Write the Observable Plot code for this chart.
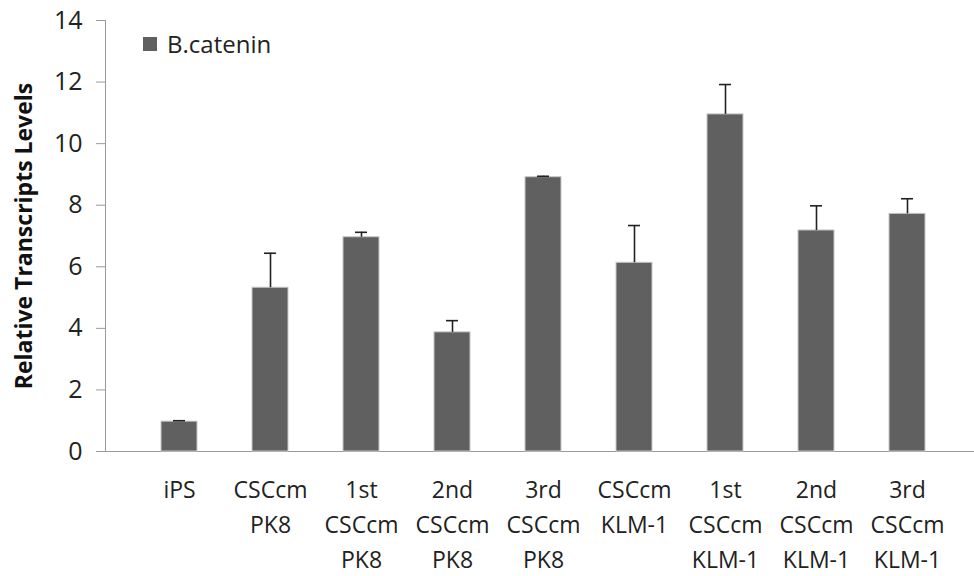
<!DOCTYPE html>
<html>
<head>
<meta charset="utf-8">
<script src="https://cdn.jsdelivr.net/npm/d3@7"></script>
<script src="https://cdn.jsdelivr.net/npm/@observablehq/plot@0.6"></script>
<style>
  body { margin: 0; background: #fff; }
  #wrap { position: relative; width: 974px; height: 576px; overflow: hidden; font-family: "Open Sans", sans-serif; }
  #legend { position: absolute; left: 143px; top: 27px; display: flex; align-items: center; font-size: 24px; color: #222; }
  #legend .sw { width: 14px; height: 14px; background: #606060; margin-right: 10px; }
</style>
</head>
<body>
<div id="wrap">
  <div id="chart"></div>
  <div id="legend"><div class="sw"></div><span>B.catenin</span></div>
</div>
<script>
const categories = ["iPS", "CSCcm\nPK8", "1st\nCSCcm\nPK8", "2nd\nCSCcm\nPK8", "3rd\nCSCcm\nPK8", "CSCcm\nKLM-1", "1st\nCSCcm\nKLM-1", "2nd\nCSCcm\nKLM-1", "3rd\nCSCcm\nKLM-1"];
const values = [0.97, 5.32, 6.96, 3.87, 8.91, 6.13, 10.95, 7.18, 7.72];
const errorTops = [1.0, 6.44, 7.12, 4.25, 8.94, 7.34, 11.92, 7.98, 8.21];
const yTicks = [0, 2, 4, 6, 8, 10, 12, 14];
const seriesName = "B.catenin";
const yLabel = "Relative Transcripts Levels";

const data = categories.map((c, i) => ({cat: c, value: values[i], err: errorTops[i]}));

const chart = Plot.plot({
  width: 974,
  height: 576,
  marginTop: 20,
  marginBottom: 125,
  marginLeft: 105,
  marginRight: -8,
  style: {fontFamily: "Open Sans, sans-serif", color: "#222", background: "#fff"},
  x: {domain: categories, padding: 0.6, axis: null},
  y: {domain: [0, 14], axis: null},
  marks: [
    Plot.frame({anchor: "left", stroke: "#9a9a9a"}),
    Plot.frame({anchor: "bottom", stroke: "#9a9a9a"}),
    Plot.axisY({ticks: yTicks, tickSize: 9, tickPadding: 14, fontSize: 25, stroke: "#9a9a9a", label: null, tickFormat: d => String(d)}),
    Plot.axisX({tickSize: 0, tickPadding: 21, fontSize: 23, lineHeight: 1.53, label: null, tickFormat: d => d}),
    Plot.barY(data, {x: "cat", y: "value", fill: "#606060", stroke: "#c8c8c8", strokeWidth: 1}),
    Plot.ruleX(data, {x: "cat", y1: "value", y2: "err", stroke: "#222", strokeWidth: 1.6}),
    Plot.tickY(data, {x: "cat", y: "err", stroke: "#222", strokeWidth: 1.6, insetLeft: 12, insetRight: 12}),
    Plot.text([yLabel], {frameAnchor: "left", dx: -81, rotate: -90, textAnchor: "middle", lineAnchor: "middle", fontWeight: "bold", fontSize: 23, fill: "#111"})
  ]
});
document.getElementById("chart").append(chart);
</script>
</body>
</html>
